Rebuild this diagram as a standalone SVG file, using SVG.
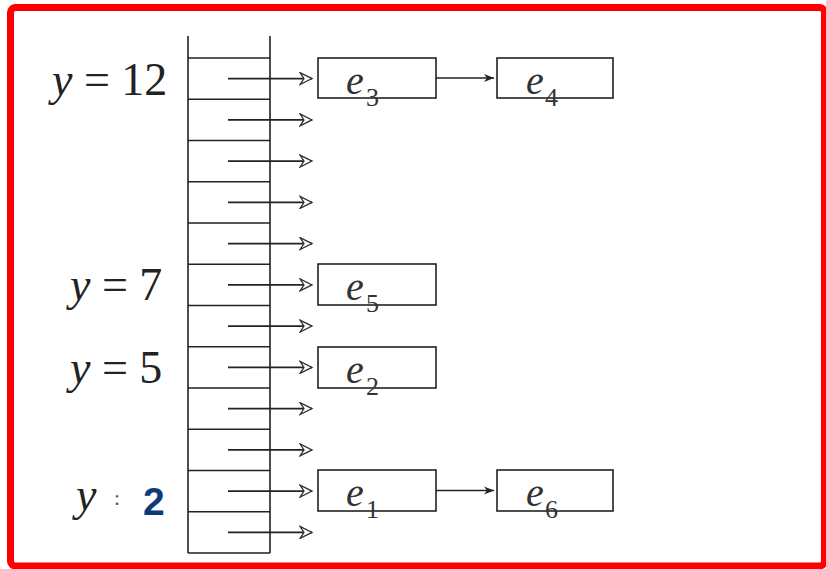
<svg xmlns="http://www.w3.org/2000/svg" width="826" height="569" viewBox="0 0 826 569">
<defs>
<marker id="open" markerWidth="16" markerHeight="14" refX="13" refY="7" orient="auto" markerUnits="userSpaceOnUse">
<path d="M1,1 L13,7 L1,13 L5,7 Z" fill="#fff" stroke="#333" stroke-width="1.3"/>
</marker>
<marker id="solid" markerWidth="12" markerHeight="10" refX="10" refY="5" orient="auto" markerUnits="userSpaceOnUse">
<path d="M0,1 L10,5 L0,9 L3,5 Z" fill="#222"/>
</marker>
</defs>
<rect x="10.5" y="7.5" width="814" height="558.5" rx="5" fill="#fff" stroke="#ff0000" stroke-width="7"/>

<g id="table" stroke="#222" stroke-width="1.6" fill="none">
<path d="M188,36 V553 M270,36 V553"/>
<path d="M188,58 H270 M188,99.25 H270 M188,140.5 H270 M188,181.75 H270 M188,223 H270 M188,264.25 H270 M188,305.5 H270 M188,346.75 H270 M188,388 H270 M188,429.25 H270 M188,470.5 H270 M188,511.75 H270 M188,553 H270"/>
</g>

<g id="labels">
<text x="52" y="95" font-family="serif" font-size="46" fill="#222"><tspan font-style="italic">y</tspan> = 12</text>
<text x="70" y="300" font-family="serif" font-size="46" fill="#222"><tspan font-style="italic">y</tspan> = 7</text>
<text x="70" y="383" font-family="serif" font-size="46" fill="#222"><tspan font-style="italic">y</tspan> = 5</text>
<text x="76" y="510" font-family="serif" font-size="46" fill="#222" font-style="italic">y</text>
<text x="114" y="505" font-family="serif" font-size="22" fill="#555">:</text>
<text x="143" y="515" font-family="Liberation Sans" font-size="39" font-weight="bold" fill="#0b3b78">2</text>
</g>

<g id="e3"><rect x="318" y="58" width="118" height="40" fill="#fff" stroke="#222" stroke-width="1.6"/><text x="346" y="94" font-family="serif" font-size="40" font-style="italic" fill="#333">e</text><text x="366" y="106" font-family="serif" font-size="26" fill="#333">3</text></g>
<g id="e4"><rect x="497" y="58" width="116" height="40" fill="#fff" stroke="#222" stroke-width="1.6"/><text x="526" y="94" font-family="serif" font-size="40" font-style="italic" fill="#333">e</text><text x="545" y="106" font-family="serif" font-size="26" fill="#333">4</text></g>
<g id="e5"><rect x="318" y="264" width="118" height="41" fill="#fff" stroke="#222" stroke-width="1.6"/><text x="346" y="300" font-family="serif" font-size="40" font-style="italic" fill="#333">e</text><text x="366" y="312" font-family="serif" font-size="26" fill="#333">5</text></g>
<g id="e2"><rect x="318" y="347" width="118" height="41" fill="#fff" stroke="#222" stroke-width="1.6"/><text x="346" y="383" font-family="serif" font-size="40" font-style="italic" fill="#333">e</text><text x="366" y="395" font-family="serif" font-size="26" fill="#333">2</text></g>
<g id="e1"><rect x="318" y="470" width="118" height="41" fill="#fff" stroke="#222" stroke-width="1.6"/><text x="346" y="506" font-family="serif" font-size="40" font-style="italic" fill="#333">e</text><text x="366" y="518" font-family="serif" font-size="26" fill="#333">1</text></g>
<g id="e6"><rect x="497" y="470" width="116" height="41" fill="#fff" stroke="#222" stroke-width="1.6"/><text x="526" y="506" font-family="serif" font-size="40" font-style="italic" fill="#333">e</text><text x="545" y="518" font-family="serif" font-size="26" fill="#333">6</text></g>

<g id="connectors" stroke="#222" stroke-width="1.6" fill="none">
<path marker-end="url(#open)" d="M228,78.6 H312"/>
<path marker-end="url(#open)" d="M228,119.9 H312"/>
<path marker-end="url(#open)" d="M228,161.1 H312"/>
<path marker-end="url(#open)" d="M228,202.4 H312"/>
<path marker-end="url(#open)" d="M228,243.6 H312"/>
<path marker-end="url(#open)" d="M228,284.9 H312"/>
<path marker-end="url(#open)" d="M228,326.1 H312"/>
<path marker-end="url(#open)" d="M228,367.4 H312"/>
<path marker-end="url(#open)" d="M228,408.6 H312"/>
<path marker-end="url(#open)" d="M228,449.9 H312"/>
<path marker-end="url(#open)" d="M228,491.1 H312"/>
<path marker-end="url(#open)" d="M228,532.4 H312"/>
<path marker-end="url(#solid)" d="M436,78 H494"/>
<path marker-end="url(#solid)" d="M436,490.5 H494"/>
</g>
</svg>
